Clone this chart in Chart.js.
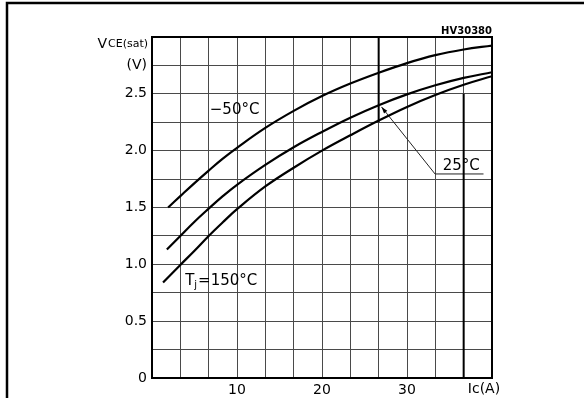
<!DOCTYPE html>
<html>
<head>
<meta charset="utf-8">
<title>VCE(sat) vs IC</title>
<script src="https://cdn.jsdelivr.net/npm/chart.js@4.4.1/dist/chart.umd.min.js"></script>
<style>
  body { margin: 0; background: #fff; }
  #wrap { width: 584px; height: 405px; position: relative; }
</style>
</head>
<body>
<div id="wrap"><canvas id="chart" width="584" height="405"></canvas></div>
<script>
// Collector current (A) and VCE(sat) (V)
const icMinus50 = [1.9, 3.33, 5, 6.67, 8.33, 10, 13.33, 16.67, 20, 23.33, 26.67, 30, 33.33, 36.67, 40];
const vceMinus50 = [1.50, 1.60, 1.715, 1.825, 1.93, 2.025, 2.20, 2.35, 2.48, 2.59, 2.685, 2.77, 2.84, 2.89, 2.925];

const ic25 = [1.75, 3.33, 5, 6.67, 8.33, 10, 13.33, 16.67, 20, 23.33, 26.67, 30, 33.33, 36.67, 40];
const vce25 = [1.13, 1.25, 1.375, 1.49, 1.60, 1.70, 1.875, 2.03, 2.165, 2.29, 2.40, 2.495, 2.575, 2.64, 2.69];

const ic150 = [1.3, 3.33, 5, 6.67, 8.33, 10, 13.33, 16.67, 20, 23.33, 26.67, 30, 33.33, 36.67, 40];
const vce150 = [0.84, 0.995, 1.12, 1.25, 1.37, 1.485, 1.685, 1.85, 2.0, 2.135, 2.265, 2.385, 2.49, 2.58, 2.655];

// leader line for the 25°C label
const leaderIc = [27.0, 33.3, 39.0];
const leaderVce = [2.385, 1.795, 1.795];

// tick labels
const xTickValues = [10, 20, 30];
const xTickLabels = ['10', '20', '30'];
const yTickValues = [0, 0.5, 1.0, 1.5, 2.0, 2.5, 2.75];
const yTickLabels = ['0', '0.5', '1.0', '1.5', '2.0', '2.5', '(V)'];

function toPoints(xs, ys) {
  return xs.map((x, i) => ({ x: x, y: ys[i] }));
}

function findLabel(values, labels, v) {
  for (let i = 0; i < values.length; i++) {
    if (Math.abs(values[i] - v) < 0.01) return labels[i];
  }
  return '';
}

const FONT = '"DejaVu Sans", sans-serif';

// draws the frame, bold grid pieces and the text on the plot
const decorPlugin = {
  id: 'decor',
  afterDraw(chart) {
    const ctx = chart.ctx;
    const a = chart.chartArea;
    const xs = chart.scales.x;
    const ys = chart.scales.y;
    ctx.save();

    // outer page frame
    ctx.strokeStyle = '#000';
    ctx.lineWidth = 2.5;
    ctx.beginPath();
    ctx.moveTo(7, 398);
    ctx.lineTo(7, 3);
    ctx.lineTo(584, 3);
    ctx.stroke();

    // plot border
    ctx.lineWidth = 2;
    ctx.strokeRect(a.left, a.top, a.right - a.left, a.bottom - a.top);

    // heavier grid pieces from the original sheet
    ctx.lineWidth = 2;
    ctx.beginPath();
    ctx.moveTo(xs.getPixelForValue(80 / 3), ys.getPixelForValue(3));
    ctx.lineTo(xs.getPixelForValue(80 / 3), ys.getPixelForValue(2.25));
    ctx.moveTo(xs.getPixelForValue(110 / 3), ys.getPixelForValue(2.5));
    ctx.lineTo(xs.getPixelForValue(110 / 3), ys.getPixelForValue(0));
    ctx.stroke();

    ctx.fillStyle = '#000';

    // y axis title
    ctx.textBaseline = 'alphabetic';
    ctx.textAlign = 'right';
    ctx.font = '11px ' + FONT;
    const sub = 'CE(sat)';
    const subW = ctx.measureText(sub).width;
    ctx.fillText(sub, 148, 47);
    ctx.font = '14px ' + FONT;
    ctx.fillText('V', 148 - subW - 1, 48);

    // x axis title
    ctx.textAlign = 'center';
    ctx.textBaseline = 'middle';
    ctx.font = '14px ' + FONT;
    ctx.fillText('Ic(A)', xs.getPixelForValue(40) - 8, 389);

    // drawing number
    ctx.textAlign = 'right';
    ctx.textBaseline = 'alphabetic';
    ctx.font = 'bold 10px ' + FONT;
    ctx.fillText('HV30380', a.right, 34);

    // curve labels
    ctx.textAlign = 'left';
    ctx.textBaseline = 'middle';
    ctx.font = '15px ' + FONT;
    ctx.fillText('\u221250\u00b0C', xs.getPixelForValue(6.8), ys.getPixelForValue(2.36));
    ctx.fillText('25\u00b0C', xs.getPixelForValue(34.2), ys.getPixelForValue(1.86));

    let tx = xs.getPixelForValue(3.9);
    const ty = ys.getPixelForValue(0.85);
    ctx.fillText('T', tx, ty);
    tx += ctx.measureText('T').width;
    ctx.font = '10px ' + FONT;
    ctx.fillText('j', tx, ty + 4);
    tx += ctx.measureText('j').width + 1;
    ctx.font = '15px ' + FONT;
    ctx.fillText('=150\u00b0C', tx, ty);

    // arrow head on the leader line
    const x0 = xs.getPixelForValue(leaderIc[0]);
    const y0 = ys.getPixelForValue(leaderVce[0]);
    const x1 = xs.getPixelForValue(leaderIc[1]);
    const y1 = ys.getPixelForValue(leaderVce[1]);
    const ang = Math.atan2(y0 - y1, x0 - x1);
    ctx.beginPath();
    ctx.moveTo(x0, y0);
    ctx.lineTo(x0 - 7 * Math.cos(ang - 0.3), y0 - 7 * Math.sin(ang - 0.3));
    ctx.lineTo(x0 - 7 * Math.cos(ang + 0.3), y0 - 7 * Math.sin(ang + 0.3));
    ctx.closePath();
    ctx.fill();

    ctx.restore();
  }
};

const curveStyle = {
  showLine: true,
  borderColor: '#000',
  borderWidth: 2.2,
  pointRadius: 0,
  tension: 0.4,
  fill: false
};

new Chart(document.getElementById('chart'), {
  type: 'scatter',
  data: {
    datasets: [
      Object.assign({ label: '-50°C', data: toPoints(icMinus50, vceMinus50) }, curveStyle),
      Object.assign({ label: '25°C', data: toPoints(ic25, vce25) }, curveStyle),
      Object.assign({ label: '150°C', data: toPoints(ic150, vce150) }, curveStyle),
      {
        label: 'leader',
        data: toPoints(leaderIc, leaderVce),
        showLine: true,
        borderColor: '#222',
        borderWidth: 1,
        pointRadius: 0,
        tension: 0
      }
    ]
  },
  options: {
    responsive: false,
    animation: false,
    layout: { padding: { left: 0, right: 92, top: 37, bottom: 0 } },
    plugins: {
      legend: { display: false },
      tooltip: { enabled: false }
    },
    scales: {
      x: {
        type: 'linear',
        min: 0,
        max: 40,
        afterBuildTicks: scale => {
          scale.ticks = Array.from({ length: 13 }, (_, i) => ({ value: i * 40 / 12 }));
        },
        afterFit: scale => { scale.height = 27; },
        border: { display: false },
        grid: { color: '#4a4a4a', lineWidth: 1, drawTicks: false },
        ticks: {
          padding: 4,
          autoSkip: false,
          maxRotation: 0,
          color: '#000',
          font: { family: FONT, size: 14 },
          callback: v => findLabel(xTickValues, xTickLabels, v)
        }
      },
      y: {
        type: 'linear',
        min: 0,
        max: 3,
        afterBuildTicks: scale => {
          scale.ticks = Array.from({ length: 13 }, (_, i) => ({ value: i * 0.25 }));
        },
        afterFit: scale => { scale.width = 152; },
        border: { display: false },
        grid: { color: '#4a4a4a', lineWidth: 1, drawTicks: false },
        ticks: {
          padding: 5,
          autoSkip: false,
          color: '#000',
          font: { family: FONT, size: 14 },
          callback: v => findLabel(yTickValues, yTickLabels, v)
        }
      }
    }
  },
  plugins: [decorPlugin]
});
</script>
</body>
</html>
